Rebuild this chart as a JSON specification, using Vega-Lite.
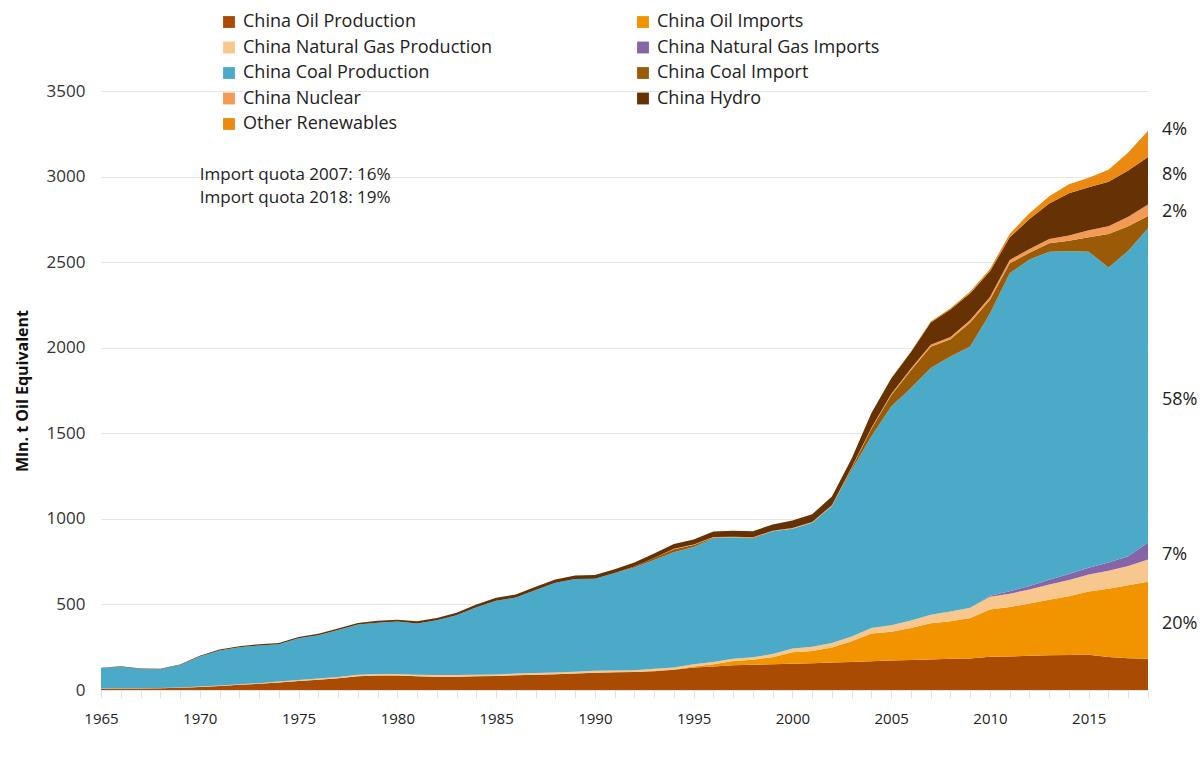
{
"$schema": "https://vega.github.io/schema/vega-lite/v6.json",
"width": 1047, "height": 599,
"autosize": {"type": "none"},
"padding": {"left": 101, "top": 91, "right": 54, "bottom": 81},
"background": "white",
"config": {"view": {"stroke": null}, "font": "Open Sans"},
"resolve": {"axis": {"x": "independent"}},
"layer": [
{
"data": {"values": [
{"year":1965,"s":"China Oil Production","v":8},{"year":1966,"s":"China Oil Production","v":9},{"year":1967,"s":"China Oil Production","v":9},{"year":1968,"s":"China Oil Production","v":10},{"year":1969,"s":"China Oil Production","v":13},{"year":1970,"s":"China Oil Production","v":18},{"year":1971,"s":"China Oil Production","v":24},{"year":1972,"s":"China Oil Production","v":30},{"year":1973,"s":"China Oil Production","v":36},{"year":1974,"s":"China Oil Production","v":44},{"year":1975,"s":"China Oil Production","v":52},{"year":1976,"s":"China Oil Production","v":60},{"year":1977,"s":"China Oil Production","v":68},{"year":1978,"s":"China Oil Production","v":80},{"year":1979,"s":"China Oil Production","v":84},{"year":1980,"s":"China Oil Production","v":84},{"year":1981,"s":"China Oil Production","v":80},{"year":1982,"s":"China Oil Production","v":78},{"year":1983,"s":"China Oil Production","v":78},{"year":1984,"s":"China Oil Production","v":80},{"year":1985,"s":"China Oil Production","v":82},{"year":1986,"s":"China Oil Production","v":86},{"year":1987,"s":"China Oil Production","v":89},{"year":1988,"s":"China Oil Production","v":92},{"year":1989,"s":"China Oil Production","v":96},{"year":1990,"s":"China Oil Production","v":101},{"year":1991,"s":"China Oil Production","v":103},{"year":1992,"s":"China Oil Production","v":105},{"year":1993,"s":"China Oil Production","v":110},{"year":1994,"s":"China Oil Production","v":118},{"year":1995,"s":"China Oil Production","v":131},{"year":1996,"s":"China Oil Production","v":138},{"year":1997,"s":"China Oil Production","v":144},{"year":1998,"s":"China Oil Production","v":147},{"year":1999,"s":"China Oil Production","v":150},{"year":2000,"s":"China Oil Production","v":154},{"year":2001,"s":"China Oil Production","v":157},{"year":2002,"s":"China Oil Production","v":160},{"year":2003,"s":"China Oil Production","v":163},{"year":2004,"s":"China Oil Production","v":168},{"year":2005,"s":"China Oil Production","v":172},{"year":2006,"s":"China Oil Production","v":175},{"year":2007,"s":"China Oil Production","v":178},{"year":2008,"s":"China Oil Production","v":183},{"year":2009,"s":"China Oil Production","v":184},{"year":2010,"s":"China Oil Production","v":195},{"year":2011,"s":"China Oil Production","v":196},{"year":2012,"s":"China Oil Production","v":200},{"year":2013,"s":"China Oil Production","v":203},{"year":2014,"s":"China Oil Production","v":204},{"year":2015,"s":"China Oil Production","v":206},{"year":2016,"s":"China Oil Production","v":193},{"year":2017,"s":"China Oil Production","v":186},{"year":2018,"s":"China Oil Production","v":183},
{"year":1965,"s":"China Oil Imports","v":0},{"year":1966,"s":"China Oil Imports","v":0},{"year":1967,"s":"China Oil Imports","v":0},{"year":1968,"s":"China Oil Imports","v":0},{"year":1969,"s":"China Oil Imports","v":0},{"year":1970,"s":"China Oil Imports","v":0},{"year":1971,"s":"China Oil Imports","v":0},{"year":1972,"s":"China Oil Imports","v":0},{"year":1973,"s":"China Oil Imports","v":0},{"year":1974,"s":"China Oil Imports","v":0},{"year":1975,"s":"China Oil Imports","v":0},{"year":1976,"s":"China Oil Imports","v":0},{"year":1977,"s":"China Oil Imports","v":0},{"year":1978,"s":"China Oil Imports","v":0},{"year":1979,"s":"China Oil Imports","v":0},{"year":1980,"s":"China Oil Imports","v":0},{"year":1981,"s":"China Oil Imports","v":0},{"year":1982,"s":"China Oil Imports","v":0},{"year":1983,"s":"China Oil Imports","v":0},{"year":1984,"s":"China Oil Imports","v":0},{"year":1985,"s":"China Oil Imports","v":0},{"year":1986,"s":"China Oil Imports","v":0},{"year":1987,"s":"China Oil Imports","v":0},{"year":1988,"s":"China Oil Imports","v":0},{"year":1989,"s":"China Oil Imports","v":0},{"year":1990,"s":"China Oil Imports","v":0},{"year":1991,"s":"China Oil Imports","v":0},{"year":1992,"s":"China Oil Imports","v":0},{"year":1993,"s":"China Oil Imports","v":2},{"year":1994,"s":"China Oil Imports","v":2},{"year":1995,"s":"China Oil Imports","v":6},{"year":1996,"s":"China Oil Imports","v":12},{"year":1997,"s":"China Oil Imports","v":25},{"year":1998,"s":"China Oil Imports","v":30},{"year":1999,"s":"China Oil Imports","v":42},{"year":2000,"s":"China Oil Imports","v":66},{"year":2001,"s":"China Oil Imports","v":71},{"year":2002,"s":"China Oil Imports","v":88},{"year":2003,"s":"China Oil Imports","v":122},{"year":2004,"s":"China Oil Imports","v":162},{"year":2005,"s":"China Oil Imports","v":168},{"year":2006,"s":"China Oil Imports","v":187},{"year":2007,"s":"China Oil Imports","v":212},{"year":2008,"s":"China Oil Imports","v":219},{"year":2009,"s":"China Oil Imports","v":236},{"year":2010,"s":"China Oil Imports","v":275},{"year":2011,"s":"China Oil Imports","v":289},{"year":2012,"s":"China Oil Imports","v":305},{"year":2013,"s":"China Oil Imports","v":325},{"year":2014,"s":"China Oil Imports","v":344},{"year":2015,"s":"China Oil Imports","v":369},{"year":2016,"s":"China Oil Imports","v":399},{"year":2017,"s":"China Oil Imports","v":426},{"year":2018,"s":"China Oil Imports","v":449},
{"year":1965,"s":"China Natural Gas Production","v":1},{"year":1966,"s":"China Natural Gas Production","v":1},{"year":1967,"s":"China Natural Gas Production","v":1},{"year":1968,"s":"China Natural Gas Production","v":1},{"year":1969,"s":"China Natural Gas Production","v":2},{"year":1970,"s":"China Natural Gas Production","v":2},{"year":1971,"s":"China Natural Gas Production","v":3},{"year":1972,"s":"China Natural Gas Production","v":3},{"year":1973,"s":"China Natural Gas Production","v":4},{"year":1974,"s":"China Natural Gas Production","v":5},{"year":1975,"s":"China Natural Gas Production","v":6},{"year":1976,"s":"China Natural Gas Production","v":7},{"year":1977,"s":"China Natural Gas Production","v":8},{"year":1978,"s":"China Natural Gas Production","v":9},{"year":1979,"s":"China Natural Gas Production","v":10},{"year":1980,"s":"China Natural Gas Production","v":10},{"year":1981,"s":"China Natural Gas Production","v":9},{"year":1982,"s":"China Natural Gas Production","v":9},{"year":1983,"s":"China Natural Gas Production","v":9},{"year":1984,"s":"China Natural Gas Production","v":9},{"year":1985,"s":"China Natural Gas Production","v":9},{"year":1986,"s":"China Natural Gas Production","v":10},{"year":1987,"s":"China Natural Gas Production","v":10},{"year":1988,"s":"China Natural Gas Production","v":10},{"year":1989,"s":"China Natural Gas Production","v":11},{"year":1990,"s":"China Natural Gas Production","v":11},{"year":1991,"s":"China Natural Gas Production","v":11},{"year":1992,"s":"China Natural Gas Production","v":11},{"year":1993,"s":"China Natural Gas Production","v":12},{"year":1994,"s":"China Natural Gas Production","v":12},{"year":1995,"s":"China Natural Gas Production","v":13},{"year":1996,"s":"China Natural Gas Production","v":13},{"year":1997,"s":"China Natural Gas Production","v":14},{"year":1998,"s":"China Natural Gas Production","v":15},{"year":1999,"s":"China Natural Gas Production","v":18},{"year":2000,"s":"China Natural Gas Production","v":22},{"year":2001,"s":"China Natural Gas Production","v":24},{"year":2002,"s":"China Natural Gas Production","v":26},{"year":2003,"s":"China Natural Gas Production","v":28},{"year":2004,"s":"China Natural Gas Production","v":32},{"year":2005,"s":"China Natural Gas Production","v":38},{"year":2006,"s":"China Natural Gas Production","v":44},{"year":2007,"s":"China Natural Gas Production","v":50},{"year":2008,"s":"China Natural Gas Production","v":56},{"year":2009,"s":"China Natural Gas Production","v":60},{"year":2010,"s":"China Natural Gas Production","v":75},{"year":2011,"s":"China Natural Gas Production","v":78},{"year":2012,"s":"China Natural Gas Production","v":82},{"year":2013,"s":"China Natural Gas Production","v":88},{"year":2014,"s":"China Natural Gas Production","v":95},{"year":2015,"s":"China Natural Gas Production","v":100},{"year":2016,"s":"China Natural Gas Production","v":105},{"year":2017,"s":"China Natural Gas Production","v":112},{"year":2018,"s":"China Natural Gas Production","v":130},
{"year":1965,"s":"China Natural Gas Imports","v":0},{"year":1966,"s":"China Natural Gas Imports","v":0},{"year":1967,"s":"China Natural Gas Imports","v":0},{"year":1968,"s":"China Natural Gas Imports","v":0},{"year":1969,"s":"China Natural Gas Imports","v":0},{"year":1970,"s":"China Natural Gas Imports","v":0},{"year":1971,"s":"China Natural Gas Imports","v":0},{"year":1972,"s":"China Natural Gas Imports","v":0},{"year":1973,"s":"China Natural Gas Imports","v":0},{"year":1974,"s":"China Natural Gas Imports","v":0},{"year":1975,"s":"China Natural Gas Imports","v":0},{"year":1976,"s":"China Natural Gas Imports","v":0},{"year":1977,"s":"China Natural Gas Imports","v":0},{"year":1978,"s":"China Natural Gas Imports","v":0},{"year":1979,"s":"China Natural Gas Imports","v":0},{"year":1980,"s":"China Natural Gas Imports","v":0},{"year":1981,"s":"China Natural Gas Imports","v":0},{"year":1982,"s":"China Natural Gas Imports","v":0},{"year":1983,"s":"China Natural Gas Imports","v":0},{"year":1984,"s":"China Natural Gas Imports","v":0},{"year":1985,"s":"China Natural Gas Imports","v":0},{"year":1986,"s":"China Natural Gas Imports","v":0},{"year":1987,"s":"China Natural Gas Imports","v":0},{"year":1988,"s":"China Natural Gas Imports","v":0},{"year":1989,"s":"China Natural Gas Imports","v":0},{"year":1990,"s":"China Natural Gas Imports","v":0},{"year":1991,"s":"China Natural Gas Imports","v":0},{"year":1992,"s":"China Natural Gas Imports","v":0},{"year":1993,"s":"China Natural Gas Imports","v":0},{"year":1994,"s":"China Natural Gas Imports","v":0},{"year":1995,"s":"China Natural Gas Imports","v":0},{"year":1996,"s":"China Natural Gas Imports","v":0},{"year":1997,"s":"China Natural Gas Imports","v":0},{"year":1998,"s":"China Natural Gas Imports","v":0},{"year":1999,"s":"China Natural Gas Imports","v":0},{"year":2000,"s":"China Natural Gas Imports","v":0},{"year":2001,"s":"China Natural Gas Imports","v":0},{"year":2002,"s":"China Natural Gas Imports","v":0},{"year":2003,"s":"China Natural Gas Imports","v":0},{"year":2004,"s":"China Natural Gas Imports","v":0},{"year":2005,"s":"China Natural Gas Imports","v":0},{"year":2006,"s":"China Natural Gas Imports","v":0},{"year":2007,"s":"China Natural Gas Imports","v":0},{"year":2008,"s":"China Natural Gas Imports","v":0},{"year":2009,"s":"China Natural Gas Imports","v":0},{"year":2010,"s":"China Natural Gas Imports","v":5},{"year":2011,"s":"China Natural Gas Imports","v":14},{"year":2012,"s":"China Natural Gas Imports","v":20},{"year":2013,"s":"China Natural Gas Imports","v":28},{"year":2014,"s":"China Natural Gas Imports","v":35},{"year":2015,"s":"China Natural Gas Imports","v":40},{"year":2016,"s":"China Natural Gas Imports","v":48},{"year":2017,"s":"China Natural Gas Imports","v":58},{"year":2018,"s":"China Natural Gas Imports","v":100},
{"year":1965,"s":"China Coal Production","v":119},{"year":1966,"s":"China Coal Production","v":126},{"year":1967,"s":"China Coal Production","v":112},{"year":1968,"s":"China Coal Production","v":110},{"year":1969,"s":"China Coal Production","v":131},{"year":1970,"s":"China Coal Production","v":176},{"year":1971,"s":"China Coal Production","v":204},{"year":1972,"s":"China Coal Production","v":217},{"year":1973,"s":"China Coal Production","v":220},{"year":1974,"s":"China Coal Production","v":219},{"year":1975,"s":"China Coal Production","v":244},{"year":1976,"s":"China Coal Production","v":253},{"year":1977,"s":"China Coal Production","v":274},{"year":1978,"s":"China Coal Production","v":293},{"year":1979,"s":"China Coal Production","v":299},{"year":1980,"s":"China Coal Production","v":306},{"year":1981,"s":"China Coal Production","v":300},{"year":1982,"s":"China Coal Production","v":321},{"year":1983,"s":"China Coal Production","v":350},{"year":1984,"s":"China Coal Production","v":394},{"year":1985,"s":"China Coal Production","v":431},{"year":1986,"s":"China Coal Production","v":444},{"year":1987,"s":"China Coal Production","v":485},{"year":1988,"s":"China Coal Production","v":524},{"year":1989,"s":"China Coal Production","v":541},{"year":1990,"s":"China Coal Production","v":538},{"year":1991,"s":"China Coal Production","v":569},{"year":1992,"s":"China Coal Production","v":600},{"year":1993,"s":"China Coal Production","v":635},{"year":1994,"s":"China Coal Production","v":673},{"year":1995,"s":"China Coal Production","v":685},{"year":1996,"s":"China Coal Production","v":724},{"year":1997,"s":"China Coal Production","v":710},{"year":1998,"s":"China Coal Production","v":693},{"year":1999,"s":"China Coal Production","v":718},{"year":2000,"s":"China Coal Production","v":700},{"year":2001,"s":"China Coal Production","v":725},{"year":2002,"s":"China Coal Production","v":801},{"year":2003,"s":"China Coal Production","v":972},{"year":2004,"s":"China Coal Production","v":1120},{"year":2005,"s":"China Coal Production","v":1279},{"year":2006,"s":"China Coal Production","v":1358},{"year":2007,"s":"China Coal Production","v":1441},{"year":2008,"s":"China Coal Production","v":1491},{"year":2009,"s":"China Coal Production","v":1527},{"year":2010,"s":"China Coal Production","v":1650},{"year":2011,"s":"China Coal Production","v":1858},{"year":2012,"s":"China Coal Production","v":1908},{"year":2013,"s":"China Coal Production","v":1917},{"year":2014,"s":"China Coal Production","v":1885},{"year":2015,"s":"China Coal Production","v":1846},{"year":2016,"s":"China Coal Production","v":1723},{"year":2017,"s":"China Coal Production","v":1784},{"year":2018,"s":"China Coal Production","v":1836},
{"year":1965,"s":"China Coal Import","v":0},{"year":1966,"s":"China Coal Import","v":0},{"year":1967,"s":"China Coal Import","v":0},{"year":1968,"s":"China Coal Import","v":0},{"year":1969,"s":"China Coal Import","v":0},{"year":1970,"s":"China Coal Import","v":0},{"year":1971,"s":"China Coal Import","v":0},{"year":1972,"s":"China Coal Import","v":0},{"year":1973,"s":"China Coal Import","v":0},{"year":1974,"s":"China Coal Import","v":0},{"year":1975,"s":"China Coal Import","v":0},{"year":1976,"s":"China Coal Import","v":0},{"year":1977,"s":"China Coal Import","v":0},{"year":1978,"s":"China Coal Import","v":0},{"year":1979,"s":"China Coal Import","v":0},{"year":1980,"s":"China Coal Import","v":0},{"year":1981,"s":"China Coal Import","v":0},{"year":1982,"s":"China Coal Import","v":0},{"year":1983,"s":"China Coal Import","v":0},{"year":1984,"s":"China Coal Import","v":0},{"year":1985,"s":"China Coal Import","v":0},{"year":1986,"s":"China Coal Import","v":0},{"year":1987,"s":"China Coal Import","v":0},{"year":1988,"s":"China Coal Import","v":0},{"year":1989,"s":"China Coal Import","v":0},{"year":1990,"s":"China Coal Import","v":0},{"year":1991,"s":"China Coal Import","v":0},{"year":1992,"s":"China Coal Import","v":5},{"year":1993,"s":"China Coal Import","v":12},{"year":1994,"s":"China Coal Import","v":18},{"year":1995,"s":"China Coal Import","v":12},{"year":1996,"s":"China Coal Import","v":4},{"year":1997,"s":"China Coal Import","v":0},{"year":1998,"s":"China Coal Import","v":5},{"year":1999,"s":"China Coal Import","v":0},{"year":2000,"s":"China Coal Import","v":0},{"year":2001,"s":"China Coal Import","v":0},{"year":2002,"s":"China Coal Import","v":0},{"year":2003,"s":"China Coal Import","v":12},{"year":2004,"s":"China Coal Import","v":45},{"year":2005,"s":"China Coal Import","v":65},{"year":2006,"s":"China Coal Import","v":105},{"year":2007,"s":"China Coal Import","v":125},{"year":2008,"s":"China Coal Import","v":100},{"year":2009,"s":"China Coal Import","v":140},{"year":2010,"s":"China Coal Import","v":80},{"year":2011,"s":"China Coal Import","v":58},{"year":2012,"s":"China Coal Import","v":40},{"year":2013,"s":"China Coal Import","v":49},{"year":2014,"s":"China Coal Import","v":62},{"year":2015,"s":"China Coal Import","v":85},{"year":2016,"s":"China Coal Import","v":197},{"year":2017,"s":"China Coal Import","v":144},{"year":2018,"s":"China Coal Import","v":72},
{"year":1965,"s":"China Nuclear","v":0},{"year":1966,"s":"China Nuclear","v":0},{"year":1967,"s":"China Nuclear","v":0},{"year":1968,"s":"China Nuclear","v":0},{"year":1969,"s":"China Nuclear","v":0},{"year":1970,"s":"China Nuclear","v":0},{"year":1971,"s":"China Nuclear","v":0},{"year":1972,"s":"China Nuclear","v":0},{"year":1973,"s":"China Nuclear","v":0},{"year":1974,"s":"China Nuclear","v":0},{"year":1975,"s":"China Nuclear","v":0},{"year":1976,"s":"China Nuclear","v":0},{"year":1977,"s":"China Nuclear","v":0},{"year":1978,"s":"China Nuclear","v":0},{"year":1979,"s":"China Nuclear","v":0},{"year":1980,"s":"China Nuclear","v":0},{"year":1981,"s":"China Nuclear","v":0},{"year":1982,"s":"China Nuclear","v":0},{"year":1983,"s":"China Nuclear","v":0},{"year":1984,"s":"China Nuclear","v":0},{"year":1985,"s":"China Nuclear","v":0},{"year":1986,"s":"China Nuclear","v":0},{"year":1987,"s":"China Nuclear","v":0},{"year":1988,"s":"China Nuclear","v":0},{"year":1989,"s":"China Nuclear","v":0},{"year":1990,"s":"China Nuclear","v":0},{"year":1991,"s":"China Nuclear","v":0},{"year":1992,"s":"China Nuclear","v":0},{"year":1993,"s":"China Nuclear","v":0},{"year":1994,"s":"China Nuclear","v":2},{"year":1995,"s":"China Nuclear","v":3},{"year":1996,"s":"China Nuclear","v":3},{"year":1997,"s":"China Nuclear","v":3},{"year":1998,"s":"China Nuclear","v":3},{"year":1999,"s":"China Nuclear","v":3},{"year":2000,"s":"China Nuclear","v":4},{"year":2001,"s":"China Nuclear","v":4},{"year":2002,"s":"China Nuclear","v":5},{"year":2003,"s":"China Nuclear","v":5},{"year":2004,"s":"China Nuclear","v":6},{"year":2005,"s":"China Nuclear","v":8},{"year":2006,"s":"China Nuclear","v":10},{"year":2007,"s":"China Nuclear","v":12},{"year":2008,"s":"China Nuclear","v":14},{"year":2009,"s":"China Nuclear","v":15},{"year":2010,"s":"China Nuclear","v":17},{"year":2011,"s":"China Nuclear","v":20},{"year":2012,"s":"China Nuclear","v":22},{"year":2013,"s":"China Nuclear","v":25},{"year":2014,"s":"China Nuclear","v":30},{"year":2015,"s":"China Nuclear","v":40},{"year":2016,"s":"China Nuclear","v":45},{"year":2017,"s":"China Nuclear","v":55},{"year":2018,"s":"China Nuclear","v":67},
{"year":1965,"s":"China Hydro","v":2},{"year":1966,"s":"China Hydro","v":3},{"year":1967,"s":"China Hydro","v":3},{"year":1968,"s":"China Hydro","v":3},{"year":1969,"s":"China Hydro","v":3},{"year":1970,"s":"China Hydro","v":4},{"year":1971,"s":"China Hydro","v":5},{"year":1972,"s":"China Hydro","v":6},{"year":1973,"s":"China Hydro","v":7},{"year":1974,"s":"China Hydro","v":7},{"year":1975,"s":"China Hydro","v":8},{"year":1976,"s":"China Hydro","v":8},{"year":1977,"s":"China Hydro","v":9},{"year":1978,"s":"China Hydro","v":10},{"year":1979,"s":"China Hydro","v":11},{"year":1980,"s":"China Hydro","v":11},{"year":1981,"s":"China Hydro","v":12},{"year":1982,"s":"China Hydro","v":13},{"year":1983,"s":"China Hydro","v":15},{"year":1984,"s":"China Hydro","v":16},{"year":1985,"s":"China Hydro","v":17},{"year":1986,"s":"China Hydro","v":18},{"year":1987,"s":"China Hydro","v":19},{"year":1988,"s":"China Hydro","v":20},{"year":1989,"s":"China Hydro","v":21},{"year":1990,"s":"China Hydro","v":22},{"year":1991,"s":"China Hydro","v":23},{"year":1992,"s":"China Hydro","v":24},{"year":1993,"s":"China Hydro","v":26},{"year":1994,"s":"China Hydro","v":28},{"year":1995,"s":"China Hydro","v":30},{"year":1996,"s":"China Hydro","v":32},{"year":1997,"s":"China Hydro","v":34},{"year":1998,"s":"China Hydro","v":35},{"year":1999,"s":"China Hydro","v":36},{"year":2000,"s":"China Hydro","v":44},{"year":2001,"s":"China Hydro","v":46},{"year":2002,"s":"China Hydro","v":50},{"year":2003,"s":"China Hydro","v":50},{"year":2004,"s":"China Hydro","v":85},{"year":2005,"s":"China Hydro","v":90},{"year":2006,"s":"China Hydro","v":96},{"year":2007,"s":"China Hydro","v":130},{"year":2008,"s":"China Hydro","v":160},{"year":2009,"s":"China Hydro","v":156},{"year":2010,"s":"China Hydro","v":150},{"year":2011,"s":"China Hydro","v":132},{"year":2012,"s":"China Hydro","v":175},{"year":2013,"s":"China Hydro","v":208},{"year":2014,"s":"China Hydro","v":248},{"year":2015,"s":"China Hydro","v":252},{"year":2016,"s":"China Hydro","v":260},{"year":2017,"s":"China Hydro","v":270},{"year":2018,"s":"China Hydro","v":278},
{"year":1965,"s":"Other Renewables","v":0},{"year":1966,"s":"Other Renewables","v":0},{"year":1967,"s":"Other Renewables","v":0},{"year":1968,"s":"Other Renewables","v":0},{"year":1969,"s":"Other Renewables","v":0},{"year":1970,"s":"Other Renewables","v":0},{"year":1971,"s":"Other Renewables","v":0},{"year":1972,"s":"Other Renewables","v":0},{"year":1973,"s":"Other Renewables","v":0},{"year":1974,"s":"Other Renewables","v":0},{"year":1975,"s":"Other Renewables","v":0},{"year":1976,"s":"Other Renewables","v":0},{"year":1977,"s":"Other Renewables","v":0},{"year":1978,"s":"Other Renewables","v":0},{"year":1979,"s":"Other Renewables","v":0},{"year":1980,"s":"Other Renewables","v":0},{"year":1981,"s":"Other Renewables","v":0},{"year":1982,"s":"Other Renewables","v":0},{"year":1983,"s":"Other Renewables","v":0},{"year":1984,"s":"Other Renewables","v":0},{"year":1985,"s":"Other Renewables","v":0},{"year":1986,"s":"Other Renewables","v":0},{"year":1987,"s":"Other Renewables","v":0},{"year":1988,"s":"Other Renewables","v":0},{"year":1989,"s":"Other Renewables","v":0},{"year":1990,"s":"Other Renewables","v":0},{"year":1991,"s":"Other Renewables","v":0},{"year":1992,"s":"Other Renewables","v":0},{"year":1993,"s":"Other Renewables","v":0},{"year":1994,"s":"Other Renewables","v":0},{"year":1995,"s":"Other Renewables","v":0},{"year":1996,"s":"Other Renewables","v":0},{"year":1997,"s":"Other Renewables","v":0},{"year":1998,"s":"Other Renewables","v":0},{"year":1999,"s":"Other Renewables","v":0},{"year":2000,"s":"Other Renewables","v":0},{"year":2001,"s":"Other Renewables","v":0},{"year":2002,"s":"Other Renewables","v":0},{"year":2003,"s":"Other Renewables","v":0},{"year":2004,"s":"Other Renewables","v":0},{"year":2005,"s":"Other Renewables","v":2},{"year":2006,"s":"Other Renewables","v":3},{"year":2007,"s":"Other Renewables","v":5},{"year":2008,"s":"Other Renewables","v":8},{"year":2009,"s":"Other Renewables","v":10},{"year":2010,"s":"Other Renewables","v":13},{"year":2011,"s":"Other Renewables","v":20},{"year":2012,"s":"Other Renewables","v":33},{"year":2013,"s":"Other Renewables","v":42},{"year":2014,"s":"Other Renewables","v":52},{"year":2015,"s":"Other Renewables","v":55},{"year":2016,"s":"Other Renewables","v":70},{"year":2017,"s":"Other Renewables","v":105},{"year":2018,"s":"Other Renewables","v":153}
]},
"transform": [{"lookup": "s", "from": {"data": {"values": [
{"s": "China Oil Production", "rank": 1}, {"s": "China Oil Imports", "rank": 2}, {"s": "China Natural Gas Production", "rank": 3}, {"s": "China Natural Gas Imports", "rank": 4}, {"s": "China Coal Production", "rank": 5}, {"s": "China Coal Import", "rank": 6}, {"s": "China Nuclear", "rank": 7}, {"s": "China Hydro", "rank": 8}, {"s": "Other Renewables", "rank": 9}]}, "key": "s", "fields": ["rank"]}}],
"mark": {"type": "area", "interpolate": "linear"},
"encoding": {
"x": {"field": "year", "type": "quantitative",
"scale": {"domain": [1965, 2018], "nice": false, "zero": false},
"axis": {"title": null, "grid": false, "format": "d", "orient": "bottom",
"values": [1965,1966,1967,1968,1969,1970,1971,1972,1973,1974,1975,1976,1977,1978,1979,1980,1981,1982,1983,1984,1985,1986,1987,1988,1989,1990,1991,1992,1993,1994,1995,1996,1997,1998,1999,2000,2001,2002,2003,2004,2005,2006,2007,2008,2009,2010,2011,2012,2013,2014,2015,2016,2017,2018],
"labels": false, "domain": true, "domainColor": "#e3e3e3", "ticks": true, "tickColor": "#e3e3e3", "tickSize": 8}},
"y": {"field": "v", "type": "quantitative", "stack": "zero",
"scale": {"domain": [0, 3500], "nice": false},
"axis": {"title": "Mln. t Oil Equivalent", "titleFontWeight": "bold", "titleFontSize": 16, "titleColor": "#111", "titlePadding": 16,
"values": [0,500,1000,1500,2000,2500,3000,3500], "format": "d",
"domain": false, "ticks": false, "labelPadding": 16, "labelFontSize": 17, "labelColor": "#333", "gridColor": "#e6e6e6"}},
"order": {"field": "rank", "type": "quantitative", "sort": "ascending"},
"color": {"field": "s", "type": "nominal",
"sort": ["China Oil Production","China Oil Imports","China Natural Gas Production","China Natural Gas Imports","China Coal Production","China Coal Import","China Nuclear","China Hydro","Other Renewables"],
"scale": {"domain": ["China Oil Production","China Oil Imports","China Natural Gas Production","China Natural Gas Imports","China Coal Production","China Coal Import","China Nuclear","China Hydro","Other Renewables"],
"range": ["#AA4B04","#F29400","#F8C78E","#8664A8","#4BAAC8","#9B5B06","#F39A55","#663203","#EA8A10"]},
"legend": {"title": null, "orient": "none", "direction": "horizontal", "legendX": 119, "legendY": -78, "columns": 2, "columnPadding": 141, "rowPadding": 7.5, "padding": 0,
"symbolType": "square", "symbolSize": 140, "symbolStrokeWidth": 0, "labelFontSize": 18, "labelOffset": 5, "labelColor": "#222", "labelLimit": 400}}
}
},
{
"data": {"values": [{"t": "Import quota 2007: 16%", "year": 1970, "v": 3010}, {"t": "Import quota 2018: 19%", "year": 1970, "v": 2875}]},
"mark": {"type": "text", "align": "left", "baseline": "middle", "fontSize": 17, "color": "#222"},
"encoding": {"x": {"field": "year", "type": "quantitative",
"scale": {"domain": [1965, 2018], "nice": false, "zero": false},
"axis": {"title": null, "orient": "bottom", "grid": false, "format": "d", "domain": false, "ticks": false,
"values": [1965,1970,1975,1980,1985,1990,1995,2000,2005,2010,2015],
"labelOverlap": false, "labelFlush": false, "labelFontSize": 15, "labelPadding": 21, "labelColor": "#222"}},
"y": {"field": "v", "type": "quantitative"}, "text": {"field": "t"}}
},
{
"data": {"values": [{"t": "4%", "v": 3270}, {"t": "8%", "v": 3008}, {"t": "2%", "v": 2792}, {"t": "58%", "v": 1696}, {"t": "7%", "v": 786}, {"t": "20%", "v": 383}]},
"mark": {"type": "text", "align": "left", "baseline": "middle", "fontSize": 18, "color": "#222", "dx": 14},
"encoding": {"x": {"datum": 2018, "type": "quantitative", "axis": null}, "y": {"field": "v", "type": "quantitative"}, "text": {"field": "t"}}
}
]
}
